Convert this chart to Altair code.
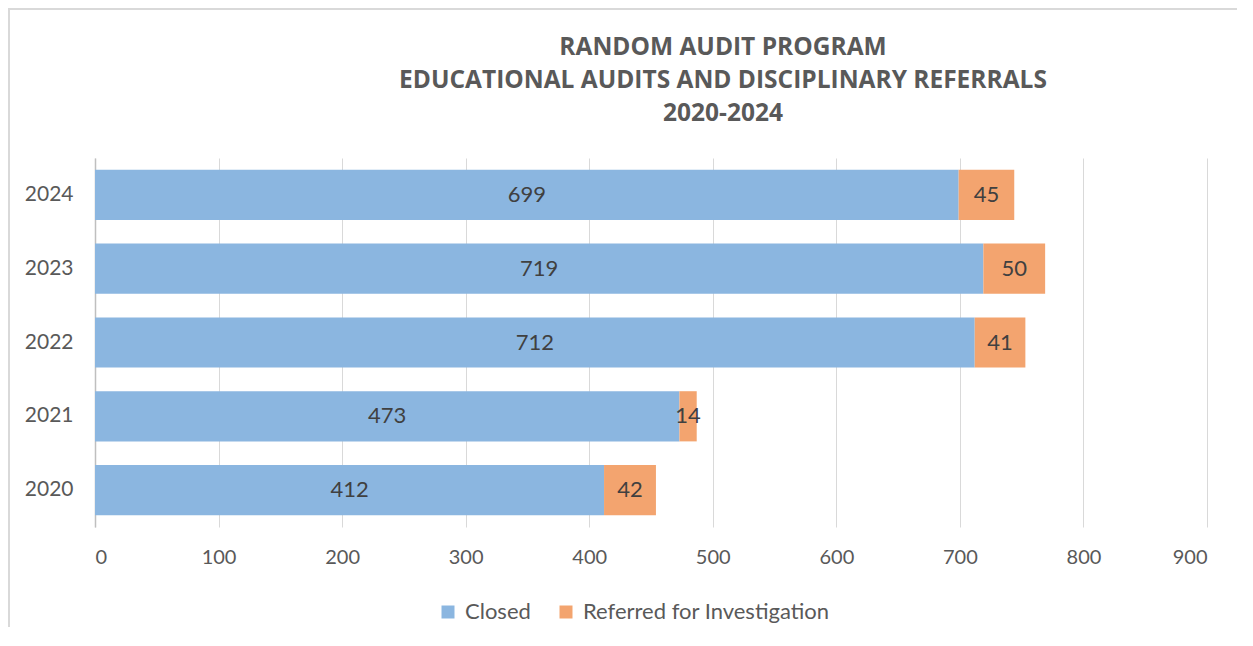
import altair as alt
import pandas as pd

years = ["2020", "2021", "2022", "2023", "2024"]
closed = [412, 473, 712, 719, 699]
referred = [42, 14, 41, 50, 45]
series = ["Closed", "Referred for Investigation"]
colors = ["#8BB6E0", "#F3A46F"]
x_ticks = [0, 100, 200, 300, 400, 500, 600, 700, 800, 900]
title_lines = ["RANDOM AUDIT PROGRAM",
               "EDUCATIONAL AUDITS AND DISCIPLINARY REFERRALS",
               "2020-2024"]

rows = []
for y, c, r in zip(years, closed, referred):
    rows.append({"year": y, "series": series[0], "value": c, "order": 0})
    rows.append({"year": y, "series": series[1], "value": r, "order": 1})
df = pd.DataFrame(rows)

FONT = "Lato"
W, H = 1112, 369
PAD = {"left": 87, "top": 150, "right": 30, "bottom": 100}

base = alt.Chart(df).transform_stack(
    stack="value", groupby=["year"], as_=["x0", "x1"],
    sort=[alt.SortField("order", order="ascending")]
).transform_calculate(mid="(datum.x0 + datum.x1) / 2")

yscale = alt.Scale(paddingInner=0.32, paddingOuter=0.16)
xscale = alt.Scale(domain=[0, 900], nice=False)

bars = base.mark_bar().encode(
    x=alt.X("x0:Q", scale=xscale, title=None,
            axis=alt.Axis(values=x_ticks, grid=True, gridColor="#D9D9D9",
                          gridWidth=1, domain=False, ticks=False,
                          labelFont=FONT, labelFontSize=20,
                          labelColor="#595959", labelPadding=20)),
    x2="x1:Q",
    y=alt.Y("year:N", sort=years[::-1], scale=yscale, title=None,
            axis=alt.Axis(domain=True, domainColor="#BFBFBF", domainWidth=1.5,
                          ticks=False, grid=False, labelFont=FONT,
                          labelFontSize=21, labelColor="#595959",
                          labelPadding=22)),
    color=alt.Color("series:N", scale=alt.Scale(domain=series, range=colors),
                    title=None,
                    legend=alt.Legend(orient="none", legendX=342, legendY=443,
                                      direction="horizontal",
                                      symbolType="square", symbolSize=169,
                                      symbolStrokeWidth=0, labelFont=FONT,
                                      labelFontSize=22, labelColor="#595959",
                                      labelOffset=6, columnPadding=24,
                                      labelLimit=500)),
    order=alt.Order("order:Q"),
)

labels = base.mark_text(font=FONT, fontSize=22, color="#404040").encode(
    x=alt.X("mid:Q", scale=xscale),
    y=alt.Y("year:N", sort=years[::-1], scale=yscale),
    text="value:Q",
)

border = alt.Chart(pd.DataFrame({"b": [0]})).mark_rect(
    fill="transparent", stroke="#D9D9D9", strokeWidth=2
).encode(
    x=alt.value(-PAD["left"] + 1), x2=alt.value(W + 200),
    y=alt.value(-PAD["top"] + 1), y2=alt.value(H + 300),
)

chart = alt.layer(border, bars, labels).properties(
    width=W, height=H,
    padding=PAD,
    autosize=alt.AutoSizeParams(type="none"),
    title=alt.TitleParams(text=title_lines, font="Open Sans", fontSize=24.5,
                          fontWeight="bold", color="#595959", lineHeight=33,
                          anchor="middle", dx=72, offset=-118),
).configure_view(stroke=None)

chart.save("out.html", embed_options={"renderer": "svg", "actions": False})
